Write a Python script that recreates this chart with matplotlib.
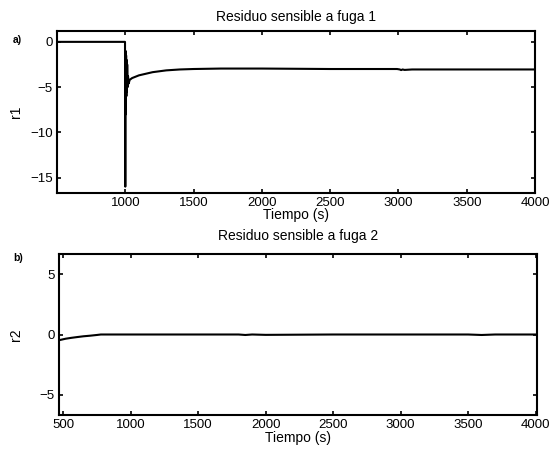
import matplotlib
matplotlib.use("Agg")
import matplotlib.pyplot as plt

plt.rcParams['font.family'] = ['Liberation Sans', 'DejaVu Sans']

# Panel a) residual sensitive to leak 1
t1 = [500, 998, 1000, 1002, 1004, 1006, 1008, 1010, 1012, 1014, 1017, 1020, 1025,
      1032, 1050, 1100, 1200, 1300, 1400, 1500, 1700, 2000, 2500, 2990, 3010,
      3020, 3030, 3045, 3100, 3500, 4000]
r1 = [0, 0, -16, -1, -8, -1.5, -6, -2, -5.5, -2.5, -5, -3.8, -4.6,
      -4.2, -4.0, -3.7, -3.35, -3.15, -3.05, -3.0, -2.95, -2.95, -3.0, -3.0, -3.05,
      -3.12, -3.05, -3.1, -3.05, -3.05, -3.05]

# Panel b) residual sensitive to leak 2
t2 = [480, 520, 560, 600, 650, 700, 750, 780, 1000, 1500, 1800, 1850, 1900, 2000,
      2500, 3000, 3500, 3600, 3700, 4000]
r2 = [-0.45, -0.35, -0.28, -0.22, -0.15, -0.1, -0.04, 0.0, 0.0, 0.0, 0.0, -0.04,
      0.0, -0.03, 0.0, 0.0, 0.0, -0.04, 0.0, 0.0]

xt1 = [1000, 1500, 2000, 2500, 3000, 3500, 4000]
yt1 = [0, -5, -10, -15]
xt2 = [500, 1000, 1500, 2000, 2500, 3000, 3500, 4000]
yt2 = [5, 0, -5]

W, H = 551, 458
fig = plt.figure(figsize=(W / 100, H / 100), dpi=100)

def px_axes(l, t, r, b):
    return fig.add_axes([l / W, 1 - b / H, (r - l) / W, (b - t) / H])

ax1 = px_axes(57, 31, 535, 193)
ax2 = px_axes(59, 254, 537, 415)

fs = 10
tfs = 9.5
for ax in (ax1, ax2):
    ax.tick_params(direction='in', top=True, right=True, length=3, width=1.2,
                   labelsize=tfs, pad=3)
    for s in ax.spines.values():
        s.set_linewidth(1.5)

ax1.plot(t1, r1, color='black', lw=1.5)
ax1.set_xlim(500, 4000)
ax1.set_ylim(-16.7, 1.2)
ax1.set_xticks(xt1)
ax1.set_yticks(yt1)
ax1.set_title('Residuo sensible a fuga 1', fontsize=fs, pad=7)
ax1.set_xlabel('Tiempo (s)', fontsize=fs, labelpad=-1)
ax1.set_ylabel('r1', fontsize=fs, labelpad=5)
fig.text(17 / W, 1 - 40 / H, 'a)', fontsize=7.5, fontweight='bold', ha='center', va='center')

ax2.plot(t2, r2, color='black', lw=1.5)
ax2.set_xlim(470, 4010)
ax2.set_ylim(-6.7, 6.7)
ax2.set_xticks(xt2)
ax2.set_yticks(yt2)
ax2.set_title('Residuo sensible a fuga 2', fontsize=fs, pad=10)
ax2.set_xlabel('Tiempo (s)', fontsize=fs, labelpad=0)
ax2.set_ylabel('r2', fontsize=fs, labelpad=12)
fig.text(18 / W, 1 - 258 / H, 'b)', fontsize=7.5, fontweight='bold', ha='center', va='center')

fig.savefig('out.png', dpi=100)
